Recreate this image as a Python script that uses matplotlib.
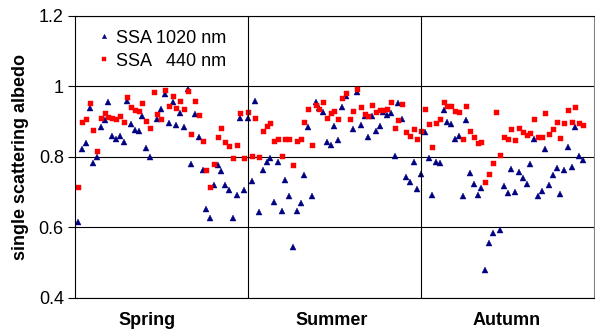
import numpy as np
import matplotlib.pyplot as plt

plt.rcParams['font.family'] = ['Liberation Sans', 'DejaVu Sans']

nan = np.nan

seasons = ["Spring", "Summer", "Autumn"]

# single scattering albedo, one value per day, season by season
spring_1020 = [0.617, 0.824, 0.839, 0.938, 0.784, 0.801, 0.885, 0.904, 0.955, 0.860,
               0.850, 0.859, 0.842, 0.959, 0.894, 0.877, 0.873, 0.916, 0.826, 0.800,
               nan, 0.908, 0.936, 0.979, 0.896, 0.955, 0.891, 0.926, 0.885, 0.994,
               0.780, 0.922, 0.857, 0.762, 0.652, 0.628, 0.721, 0.776, 0.761, 0.720,
               0.707, 0.628, 0.692, 0.912, 0.705, 0.912]
spring_440 = [0.714, 0.898, 0.907, 0.953, 0.876, 0.818, 0.911, 0.925, 0.914, 0.911,
              0.909, 0.916, 0.898, 0.971, 0.942, 0.933, 0.931, 0.952, 0.903, 0.882,
              0.984, 0.922, 0.908, 0.989, 0.944, 0.974, 0.940, 0.958, 0.935, 0.988,
              0.865, 0.958, 0.920, 0.844, 0.762, 0.715, 0.781, 0.857, 0.881, 0.842,
              0.831, 0.797, 0.835, 0.925, 0.796, 0.927]

summer_1020 = [0.732, 0.959, 0.644, 0.762, 0.785, 0.797, 0.673, 0.787, 0.646, 0.734,
               0.689, 0.546, 0.647, 0.669, 0.748, 0.885, 0.689, 0.955, 0.940, 0.927,
               0.843, 0.835, 0.888, 0.848, 0.942, 0.972, nan, 0.878, 0.984, 0.890,
               0.917, 0.857, 0.917, 0.873, 0.889, 0.929, 0.920, 0.925, 0.803, 0.953,
               0.908, 0.743, 0.728, 0.787, 0.710, 0.751]
summer_440 = [0.802, 0.911, 0.801, 0.873, 0.887, 0.897, 0.844, 0.851, 0.803, 0.850,
              0.850, 0.776, 0.845, 0.852, 0.898, 0.936, 0.835, 0.947, 0.937, 0.956,
              0.911, 0.926, 0.931, 0.907, 0.967, 0.982, 0.909, 0.930, 0.992, 0.941,
              0.921, 0.917, 0.948, 0.927, 0.933, 0.932, 0.937, 0.956, 0.883, 0.906,
              0.950, 0.870, 0.860, 0.880, 0.851, 0.874]

autumn_1020 = [0.872, 0.796, 0.692, 0.786, 0.782, 0.933, 0.899, 0.894, 0.850, 0.859,
               0.689, 0.906, 0.756, 0.724, 0.692, 0.711, 0.479, 0.557, 0.583, nan,
               0.593, 0.717, 0.698, 0.766, 0.702, 0.757, 0.739, 0.724, 0.780, 0.851,
               0.688, 0.704, 0.823, 0.720, 0.748, 0.769, 0.696, 0.763, 0.827, 0.772,
               0.885, 0.804, 0.792]
autumn_440 = [0.936, 0.894, 0.828, 0.896, 0.908, 0.956, 0.945, 0.945, 0.930, 0.928,
              0.851, 0.944, 0.875, 0.856, 0.840, 0.843, 0.728, 0.752, 0.783, 0.929,
              0.806, 0.857, 0.850, 0.879, 0.849, 0.881, 0.871, 0.862, 0.868, 0.908,
              0.857, 0.858, 0.924, 0.864, 0.879, 0.899, 0.854, 0.897, 0.934, 0.898,
              0.941, 0.896, 0.890]

ssa_1020 = np.array(spring_1020 + summer_1020 + autumn_1020)
ssa_440 = np.array(spring_440 + summer_440 + autumn_440)
day = np.arange(len(ssa_1020))

# last day of spring and of summer mark the season borders
borders = [len(spring_1020) - 1, len(spring_1020) + len(summer_1020) - 1]
x_min, x_max = -0.9, 136.8
label_pos = [18.2, 67.3, 113.7]

fig = plt.figure(figsize=(5.95, 3.31), dpi=100)
ax = fig.add_axes([0.126, 0.0997, 0.8716, 0.852])

ax.plot(day, ssa_1020, ls='none', marker='^', ms=4.2, color='#000080',
        mec='#000080', mew=0.3, label='SSA 1020 nm')
ax.plot(day, ssa_440, ls='none', marker='s', ms=3.6, color='#ff0000',
        mec='#ff0000', mew=0.3, label='SSA   440 nm')

ax.set_xlim(x_min, x_max)
ax.set_ylim(0.4, 1.2)
ax.set_yticks([0.4, 0.6, 0.8, 1.0, 1.2])
ax.set_yticklabels(['0.4', '0.6', '0.8', '1', '1.2'], fontsize=13)
ax.yaxis.grid(True, color='black', lw=0.8)
for b in borders:
    ax.axvline(b, color='black', lw=0.8)

ax.set_xticks(label_pos)
ax.set_xticklabels(seasons, fontsize=13, fontweight='bold')
ax.tick_params(axis='x', length=0, pad=10)
ax.tick_params(axis='y', length=5, width=0.8, pad=3)
for s in ax.spines.values():
    s.set_linewidth(0.8)
ax.spines['right'].set_color('#808080')

ax.set_ylabel('single scattering albedo', fontsize=13, fontweight='bold')
ax.yaxis.set_label_coords(-0.0886, 0.5)

leg = ax.legend(loc='upper left', frameon=False, fontsize=13, markerscale=0.75,
                handlelength=0.8, handletextpad=0.25, labelspacing=0.32,
                borderpad=0, borderaxespad=0, bbox_to_anchor=(0.042, 0.951))

fig.savefig('out.png', dpi=100)
